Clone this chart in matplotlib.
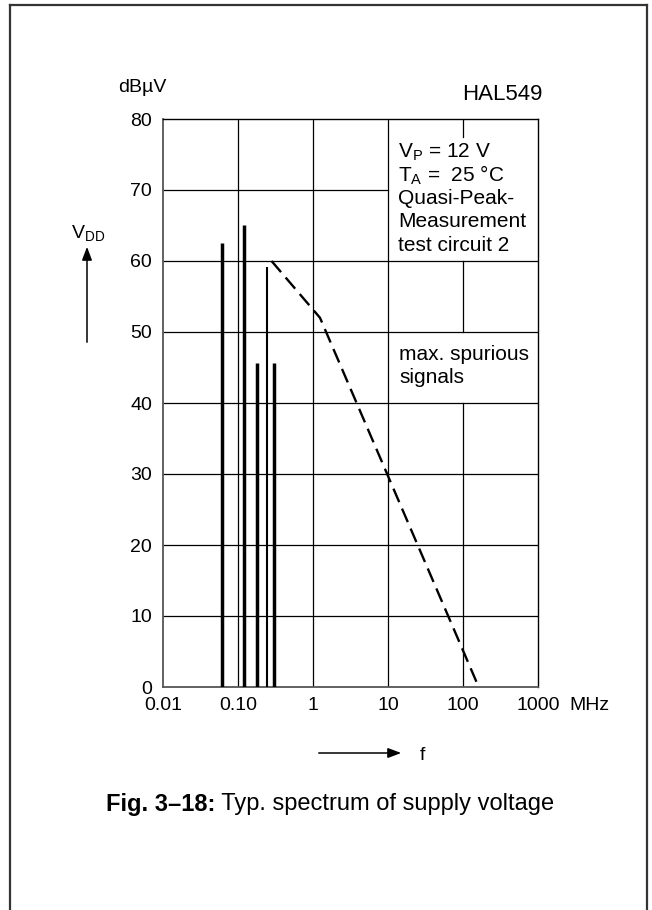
import numpy as np
import matplotlib
matplotlib.use('Agg')
import matplotlib.pyplot as plt
from matplotlib.lines import Line2D

plt.rcParams['font.family'] = ['Liberation Sans', 'DejaVu Sans']
plt.rcParams['mathtext.fontset'] = 'custom'
plt.rcParams['mathtext.rm'] = 'Liberation Sans'
plt.rcParams['mathtext.it'] = 'Liberation Sans'

# spectrum data (MHz, dBuV)
spike_freq = [0.062, 0.121, 0.18, 0.243, 0.30]
spike_level = [62.6, 65.0, 45.6, 59.2, 45.6]
spike_width = [2.5, 2.5, 2.5, 1.5, 2.5]

limit_freq = [0.28, 1.24, 153.0]
limit_level = [60.0, 52.0, 0.6]

x_ticks = [0.01, 0.1, 1, 10, 100, 1000]
x_labels = ['0.01', '0.10', '1', '10', '100', '1000']
y_ticks = [0, 10, 20, 30, 40, 50, 60, 70, 80]

W, H = 652, 910


def fx(px):
	return px / W


def fy(py):
	return 1 - py / H


fig = plt.figure(figsize=(W / 100, H / 100), dpi=100)
ax = fig.add_axes([fx(163), fy(687), fx(538) - fx(163), fy(119) - fy(687)])
ax.set_xscale('log')
ax.set_xlim(0.01, 1000)
ax.set_ylim(0, 80)

# grid, with gaps where the text blocks sit
lx = lambda v: (np.log10(v) + 2) / 5
ly = lambda v: v / 80
for xv in [0.1, 1, 10]:
	ax.axvline(xv, color='k', lw=0.9, zorder=1)
for y0, y1 in [(0, 40), (50, 60), (77.4, 80)]:
	ax.axvline(100, ymin=ly(y0), ymax=ly(y1), color='k', lw=0.9, zorder=1)
for yv in [10, 20, 30, 40, 50, 60]:
	ax.axhline(yv, color='k', lw=0.9, zorder=1)
ax.axhline(70, xmin=0, xmax=lx(10), color='k', lw=0.9, zorder=1)

# spurious spikes
for f, lvl, lw in zip(spike_freq, spike_level, spike_width):
	ax.vlines(f, 0, lvl, color='k', lw=lw, zorder=3)

# limit curve
ax.plot(limit_freq, limit_level, color='k', lw=1.7, dashes=(6.2, 3.0), zorder=3)

ax.set_xticks(x_ticks)
ax.set_xticklabels(x_labels)
ax.set_yticks(y_ticks)
ax.minorticks_off()
ax.tick_params(length=0, labelsize=14)
ax.tick_params(axis='x', pad=7)
ax.tick_params(axis='y', pad=8)
for s in ['left', 'bottom']:
	ax.spines[s].set_color('#555555')
	ax.spines[s].set_linewidth(1.3)
for s in ['top', 'right']:
	ax.spines[s].set_color('k')
	ax.spines[s].set_linewidth(1.0)

# labels around the plot
fig.text(fx(142), fy(88), 'dB\u00b5V', fontsize=14, ha='center', va='center')
fig.text(fx(542), fy(95), 'HAL549', fontsize=16, ha='right', va='center')
fig.text(fx(589), fy(706), 'MHz', fontsize=14, ha='center', va='center')
fig.text(fx(88), fy(233), r'V$_\mathrm{DD}$', fontsize=14, ha='center', va='center')
fig.text(fx(422), fy(756), 'f', fontsize=14, ha='center', va='center')

fig.add_artist(matplotlib.patches.FancyArrowPatch(
	(fx(87), fy(345)), (fx(87), fy(244)), transform=fig.transFigure,
	arrowstyle='-|>,head_length=8,head_width=3', mutation_scale=1, color='k', lw=1.1))
fig.add_artist(matplotlib.patches.FancyArrowPatch(
	(fx(316), fy(753)), (fx(404), fy(753)), transform=fig.transFigure,
	arrowstyle='-|>,head_length=8,head_width=3', mutation_scale=1, color='k', lw=1.1))

# condition block
cond = ['V$_\\mathrm{P}$ = 12 V', 'T$_\\mathrm{A}$ =  25 \u00b0C', 'Quasi-Peak-', 'Measurement', 'test circuit 2']
for i, s in enumerate(cond):
	fig.text(fx(398), fy(152 + 23.3 * i), s, fontsize=15, ha='left', va='center')
fig.text(fx(399), fy(355), 'max. spurious', fontsize=15, ha='left', va='center')
fig.text(fx(399), fy(377), 'signals', fontsize=15, ha='left', va='center')

# caption
t1 = fig.text(fx(100), fy(804), 'Fig. 3\u201318:', fontsize=17, fontweight='bold', ha='left', va='center')
t2 = fig.text(fx(100), fy(804), ' Typ. spectrum of supply voltage', fontsize=17, ha='left', va='center')
fig.canvas.draw()
r = fig.canvas.get_renderer()
w1 = t1.get_window_extent(r).width
w2 = t2.get_window_extent(r).width
x0 = (330 - (w1 + w2) / 2)
t1.set_x(fx(x0))
t2.set_x(fx(x0 + w1))

# page frame
fr = dict(color='#333333', lw=1.6, transform=fig.transFigure)
fig.add_artist(Line2D([fx(10), fx(10)], [0, fy(5)], **fr))
fig.add_artist(Line2D([fx(10), fx(647)], [fy(5), fy(5)], **fr))
fig.add_artist(Line2D([fx(647), fx(647)], [fy(5), 0], **fr))

fig.savefig('out.png', dpi=100)
